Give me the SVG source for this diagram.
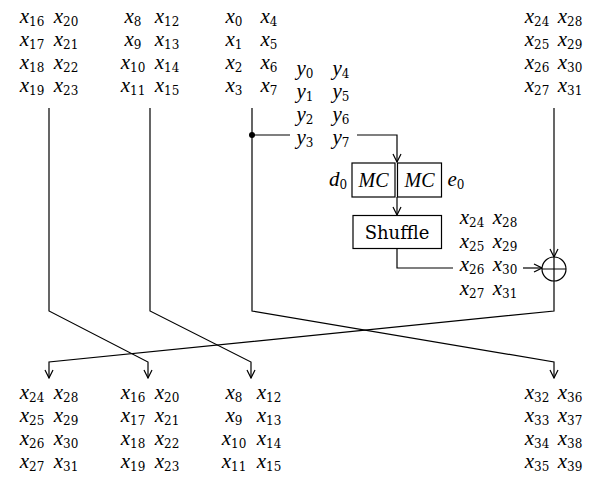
<svg xmlns="http://www.w3.org/2000/svg" width="594" height="478" viewBox="0 0 594 478">
<style>
text{font-family:"DejaVu Serif","Liberation Serif",serif;font-size:18px;fill:#000}
.c{text-anchor:middle}
.i{font-family:"Liberation Serif",serif;font-style:italic;font-size:21px}
.s{font-family:"DejaVu Serif",serif;font-size:12px;font-style:normal}
.ln{fill:none;stroke:#000;stroke-width:1.2}
.bx{fill:#fff;stroke:#000;stroke-width:1.2}
</style>
<defs>
<marker id="ah" viewBox="0 0 10 10" refX="9" refY="5" markerWidth="10" markerHeight="10" markerUnits="userSpaceOnUse" orient="auto">
<path d="M1,1 L9,5 L1,9" fill="none" stroke="#000" stroke-width="1.2"/>
</marker>
</defs>

<g id="connectors" class="ln">
<path class="ln" d="M49,108 V311 L148,362 V378" marker-end="url(#ah)"/>
<path class="ln" d="M150,108 V311 L251,362 V378" marker-end="url(#ah)"/>
<path class="ln" d="M252,108 V311 L554,362 V378" marker-end="url(#ah)"/>
<path class="ln" d="M554,281 V311 L49,362 V378" marker-end="url(#ah)"/>
<path class="ln" d="M554,108 V257" marker-end="url(#ah)"/>
<path class="ln" d="M252,135 H290"/>
<circle cx="252" cy="135" r="3" fill="#000" stroke="none"/>
<path class="ln" d="M357,135 H397 V162" marker-end="url(#ah)"/>
<path class="ln" d="M397,197 V215" marker-end="url(#ah)"/>
<path class="ln" d="M397,248 V268 H453"/>
<path class="ln" d="M523,268 H542" marker-end="url(#ah)"/>
</g>

<g id="top-x16">
<text class="c" x="32" y="22.5"><tspan class="i">x</tspan><tspan class="s" dy="3">16</tspan></text>
<text class="c" x="66" y="22.5"><tspan class="i">x</tspan><tspan class="s" dy="3">20</tspan></text>
<text class="c" x="32" y="45.5"><tspan class="i">x</tspan><tspan class="s" dy="3">17</tspan></text>
<text class="c" x="66" y="45.5"><tspan class="i">x</tspan><tspan class="s" dy="3">21</tspan></text>
<text class="c" x="32" y="68.5"><tspan class="i">x</tspan><tspan class="s" dy="3">18</tspan></text>
<text class="c" x="66" y="68.5"><tspan class="i">x</tspan><tspan class="s" dy="3">22</tspan></text>
<text class="c" x="32" y="91.5"><tspan class="i">x</tspan><tspan class="s" dy="3">19</tspan></text>
<text class="c" x="66" y="91.5"><tspan class="i">x</tspan><tspan class="s" dy="3">23</tspan></text>
</g>

<g id="top-x8">
<text class="c" x="133" y="22.5"><tspan class="i">x</tspan><tspan class="s" dy="3">8</tspan></text>
<text class="c" x="167" y="22.5"><tspan class="i">x</tspan><tspan class="s" dy="3">12</tspan></text>
<text class="c" x="133" y="45.5"><tspan class="i">x</tspan><tspan class="s" dy="3">9</tspan></text>
<text class="c" x="167" y="45.5"><tspan class="i">x</tspan><tspan class="s" dy="3">13</tspan></text>
<text class="c" x="133" y="68.5"><tspan class="i">x</tspan><tspan class="s" dy="3">10</tspan></text>
<text class="c" x="167" y="68.5"><tspan class="i">x</tspan><tspan class="s" dy="3">14</tspan></text>
<text class="c" x="133" y="91.5"><tspan class="i">x</tspan><tspan class="s" dy="3">11</tspan></text>
<text class="c" x="167" y="91.5"><tspan class="i">x</tspan><tspan class="s" dy="3">15</tspan></text>
</g>

<g id="top-x0">
<text class="c" x="234" y="22.5"><tspan class="i">x</tspan><tspan class="s" dy="3">0</tspan></text>
<text class="c" x="269" y="22.5"><tspan class="i">x</tspan><tspan class="s" dy="3">4</tspan></text>
<text class="c" x="234" y="45.5"><tspan class="i">x</tspan><tspan class="s" dy="3">1</tspan></text>
<text class="c" x="269" y="45.5"><tspan class="i">x</tspan><tspan class="s" dy="3">5</tspan></text>
<text class="c" x="234" y="68.5"><tspan class="i">x</tspan><tspan class="s" dy="3">2</tspan></text>
<text class="c" x="269" y="68.5"><tspan class="i">x</tspan><tspan class="s" dy="3">6</tspan></text>
<text class="c" x="234" y="91.5"><tspan class="i">x</tspan><tspan class="s" dy="3">3</tspan></text>
<text class="c" x="269" y="91.5"><tspan class="i">x</tspan><tspan class="s" dy="3">7</tspan></text>
</g>

<g id="top-x24">
<text class="c" x="537" y="22.5"><tspan class="i">x</tspan><tspan class="s" dy="3">24</tspan></text>
<text class="c" x="570" y="22.5"><tspan class="i">x</tspan><tspan class="s" dy="3">28</tspan></text>
<text class="c" x="537" y="45.5"><tspan class="i">x</tspan><tspan class="s" dy="3">25</tspan></text>
<text class="c" x="570" y="45.5"><tspan class="i">x</tspan><tspan class="s" dy="3">29</tspan></text>
<text class="c" x="537" y="68.5"><tspan class="i">x</tspan><tspan class="s" dy="3">26</tspan></text>
<text class="c" x="570" y="68.5"><tspan class="i">x</tspan><tspan class="s" dy="3">30</tspan></text>
<text class="c" x="537" y="91.5"><tspan class="i">x</tspan><tspan class="s" dy="3">27</tspan></text>
<text class="c" x="570" y="91.5"><tspan class="i">x</tspan><tspan class="s" dy="3">31</tspan></text>
</g>

<g id="y-words">
<text class="c" x="305" y="75"><tspan class="i">y</tspan><tspan class="s" dy="3">0</tspan></text>
<text class="c" x="341" y="75"><tspan class="i">y</tspan><tspan class="s" dy="3">4</tspan></text>
<text class="c" x="305" y="98"><tspan class="i">y</tspan><tspan class="s" dy="3">1</tspan></text>
<text class="c" x="341" y="98"><tspan class="i">y</tspan><tspan class="s" dy="3">5</tspan></text>
<text class="c" x="305" y="121"><tspan class="i">y</tspan><tspan class="s" dy="3">2</tspan></text>
<text class="c" x="341" y="121"><tspan class="i">y</tspan><tspan class="s" dy="3">6</tspan></text>
<text class="c" x="305" y="144"><tspan class="i">y</tspan><tspan class="s" dy="3">3</tspan></text>
<text class="c" x="341" y="144"><tspan class="i">y</tspan><tspan class="s" dy="3">7</tspan></text>
</g>

<g id="mc-left">
<rect class="bx" x="352" y="163" width="43" height="34"/>
<text class="c i" x="373.5" y="187" style="font-size:20px">MC</text>
<text class="c" x="338" y="186"><tspan class="i">d</tspan><tspan class="s" dy="3">0</tspan></text>
</g>
<g id="mc-right">
<rect class="bx" x="397.5" y="163" width="44" height="34"/>
<text class="c i" x="419.5" y="187" style="font-size:20px">MC</text>
<text class="c" x="456" y="186"><tspan class="i">e</tspan><tspan class="s" dy="3">0</tspan></text>
</g>

<g id="shuffle">
<rect class="bx" x="353" y="215.5" width="88.5" height="33"/>
<text class="c" x="397" y="239">Shuffle</text>
</g>

<g id="mid-x24">
<text class="c" x="472" y="224"><tspan class="i">x</tspan><tspan class="s" dy="3">24</tspan></text>
<text class="c" x="505" y="224"><tspan class="i">x</tspan><tspan class="s" dy="3">28</tspan></text>
<text class="c" x="472" y="247.5"><tspan class="i">x</tspan><tspan class="s" dy="3">25</tspan></text>
<text class="c" x="505" y="247.5"><tspan class="i">x</tspan><tspan class="s" dy="3">29</tspan></text>
<text class="c" x="472" y="271"><tspan class="i">x</tspan><tspan class="s" dy="3">26</tspan></text>
<text class="c" x="505" y="271"><tspan class="i">x</tspan><tspan class="s" dy="3">30</tspan></text>
<text class="c" x="472" y="294.5"><tspan class="i">x</tspan><tspan class="s" dy="3">27</tspan></text>
<text class="c" x="505" y="294.5"><tspan class="i">x</tspan><tspan class="s" dy="3">31</tspan></text>
</g>

<g id="xor">
<circle cx="554" cy="269" r="12" fill="#fff" stroke="#000" stroke-width="1.2"/>
<path class="ln" d="M542,269 H566 M554,257 V281"/>
</g>

<g id="bot-x24">
<text class="c" x="32" y="399"><tspan class="i">x</tspan><tspan class="s" dy="3">24</tspan></text>
<text class="c" x="66" y="399"><tspan class="i">x</tspan><tspan class="s" dy="3">28</tspan></text>
<text class="c" x="32" y="422"><tspan class="i">x</tspan><tspan class="s" dy="3">25</tspan></text>
<text class="c" x="66" y="422"><tspan class="i">x</tspan><tspan class="s" dy="3">29</tspan></text>
<text class="c" x="32" y="445"><tspan class="i">x</tspan><tspan class="s" dy="3">26</tspan></text>
<text class="c" x="66" y="445"><tspan class="i">x</tspan><tspan class="s" dy="3">30</tspan></text>
<text class="c" x="32" y="468"><tspan class="i">x</tspan><tspan class="s" dy="3">27</tspan></text>
<text class="c" x="66" y="468"><tspan class="i">x</tspan><tspan class="s" dy="3">31</tspan></text>
</g>

<g id="bot-x16">
<text class="c" x="133" y="399"><tspan class="i">x</tspan><tspan class="s" dy="3">16</tspan></text>
<text class="c" x="167" y="399"><tspan class="i">x</tspan><tspan class="s" dy="3">20</tspan></text>
<text class="c" x="133" y="422"><tspan class="i">x</tspan><tspan class="s" dy="3">17</tspan></text>
<text class="c" x="167" y="422"><tspan class="i">x</tspan><tspan class="s" dy="3">21</tspan></text>
<text class="c" x="133" y="445"><tspan class="i">x</tspan><tspan class="s" dy="3">18</tspan></text>
<text class="c" x="167" y="445"><tspan class="i">x</tspan><tspan class="s" dy="3">22</tspan></text>
<text class="c" x="133" y="468"><tspan class="i">x</tspan><tspan class="s" dy="3">19</tspan></text>
<text class="c" x="167" y="468"><tspan class="i">x</tspan><tspan class="s" dy="3">23</tspan></text>
</g>

<g id="bot-x8">
<text class="c" x="234" y="399"><tspan class="i">x</tspan><tspan class="s" dy="3">8</tspan></text>
<text class="c" x="269" y="399"><tspan class="i">x</tspan><tspan class="s" dy="3">12</tspan></text>
<text class="c" x="234" y="422"><tspan class="i">x</tspan><tspan class="s" dy="3">9</tspan></text>
<text class="c" x="269" y="422"><tspan class="i">x</tspan><tspan class="s" dy="3">13</tspan></text>
<text class="c" x="234" y="445"><tspan class="i">x</tspan><tspan class="s" dy="3">10</tspan></text>
<text class="c" x="269" y="445"><tspan class="i">x</tspan><tspan class="s" dy="3">14</tspan></text>
<text class="c" x="234" y="468"><tspan class="i">x</tspan><tspan class="s" dy="3">11</tspan></text>
<text class="c" x="269" y="468"><tspan class="i">x</tspan><tspan class="s" dy="3">15</tspan></text>
</g>

<g id="bot-x32">
<text class="c" x="537" y="399"><tspan class="i">x</tspan><tspan class="s" dy="3">32</tspan></text>
<text class="c" x="570" y="399"><tspan class="i">x</tspan><tspan class="s" dy="3">36</tspan></text>
<text class="c" x="537" y="422"><tspan class="i">x</tspan><tspan class="s" dy="3">33</tspan></text>
<text class="c" x="570" y="422"><tspan class="i">x</tspan><tspan class="s" dy="3">37</tspan></text>
<text class="c" x="537" y="445"><tspan class="i">x</tspan><tspan class="s" dy="3">34</tspan></text>
<text class="c" x="570" y="445"><tspan class="i">x</tspan><tspan class="s" dy="3">38</tspan></text>
<text class="c" x="537" y="468"><tspan class="i">x</tspan><tspan class="s" dy="3">35</tspan></text>
<text class="c" x="570" y="468"><tspan class="i">x</tspan><tspan class="s" dy="3">39</tspan></text>
</g>
</svg>
